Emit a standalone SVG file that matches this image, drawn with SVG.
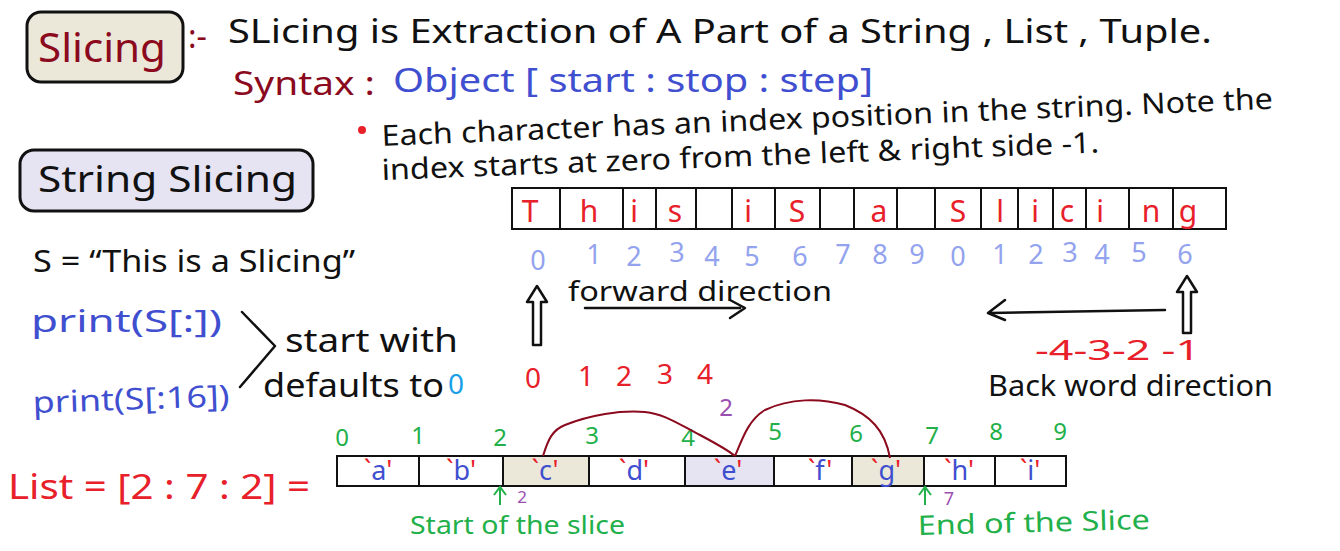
<svg xmlns="http://www.w3.org/2000/svg" width="1340" height="551" viewBox="0 0 1340 551">
<style>
text{font-family:"Noto Sans","DejaVu Sans",sans-serif;}
.blk{fill:#111}
.red{fill:#e8202a}
.dred{fill:#8b0a1e}
.blue{fill:#3f4fcf}
.lblue{fill:#93a3ee}
.green{fill:#22b04a}
.purple{fill:#9b4fb0}
.cyan{fill:#1aa0e8}
.box{stroke:#111;stroke-width:3}
.cell{stroke:#111;stroke-width:2;fill:none}
.ln{stroke:#111;stroke-width:2.5;fill:none;stroke-linecap:round;stroke-linejoin:round}
.arc{stroke:#8b0a1e;stroke-width:2;fill:none}
.garr{stroke:#22b04a;stroke-width:2;fill:none}
</style>
<rect width="1340" height="551" fill="#fff"/>

<g id="title">
<rect x="27" y="12" width="156" height="70" rx="14" fill="#ebe8da" class="box"/>
<text x="38" y="62" font-size="40" class="dred" textLength="128" lengthAdjust="spacingAndGlyphs">Slicing</text>
<text x="188" y="48" font-size="32" class="dred">:-</text>
<text x="228" y="43" font-size="33" class="blk" textLength="984" lengthAdjust="spacingAndGlyphs">SLicing is Extraction of A Part of a String , List , Tuple.</text>
</g>

<g id="syntax">
<text x="233" y="95" font-size="33" class="dred" textLength="142" lengthAdjust="spacingAndGlyphs">Syntax :</text>
<text x="393" y="92" font-size="33" class="blue" textLength="480" lengthAdjust="spacingAndGlyphs">Object [ start : stop : step]</text>
</g>

<g id="note">
<circle cx="362" cy="130" r="4" fill="#e8202a"/>
<text x="382" y="146" font-size="29" class="blk" textLength="892" lengthAdjust="spacingAndGlyphs" transform="rotate(-2.4 382 146)">Each character has an index position in the string. Note the</text>
<text x="382" y="180" font-size="29" class="blk" textLength="718" lengthAdjust="spacingAndGlyphs" transform="rotate(-2.2 382 180)">index starts at zero from the left &amp; right side -1.</text>
</g>

<g id="string-slicing">
<rect x="20" y="150" width="293" height="61" rx="14" fill="#e6e3f3" class="box"/>
<text x="38" y="192" font-size="37" class="blk" textLength="259" lengthAdjust="spacingAndGlyphs">String Slicing</text>
</g>

<g id="code">
<text x="33" y="272" font-size="31" class="blk" textLength="322" lengthAdjust="spacingAndGlyphs">S = “This is a Slicing”</text>
<text x="31" y="332" font-size="30" class="blue" textLength="191" lengthAdjust="spacingAndGlyphs">print(S[:])</text>
<text x="33" y="413" font-size="30" class="blue" textLength="197" lengthAdjust="spacingAndGlyphs" transform="rotate(-2 33 413)">print(S[:16])</text>
<polyline points="242,312 275,346 240,387" class="ln"/>
<text x="285" y="352" font-size="32" class="blk" textLength="173" lengthAdjust="spacingAndGlyphs">start with</text>
<text x="263" y="397" font-size="32" class="blk" textLength="181" lengthAdjust="spacingAndGlyphs">defaults to</text>
<text x="448" y="394" font-size="28" class="cyan">0</text>
</g>

<g id="string-array">
<rect x="512" y="188" width="714" height="41" fill="#fff" class="cell" stroke-width="2.5"/>
<path class="cell" d="M560 188V229M623 188V229M656 188V229M696 188V229M732 188V229M775 188V229M820 188V229M854 188V229M897 188V229M935 188V229M981 188V229M1018 188V229M1053 188V229M1086 188V229M1129 188V229M1173 188V229"/>
<g font-size="30" class="red" text-anchor="middle">
<text x="530" y="222">T</text><text x="589" y="222">h</text><text x="634" y="222">i</text><text x="675" y="222">s</text>
<text x="748" y="222">i</text><text x="797" y="222">S</text><text x="879" y="222">a</text><text x="958" y="222">S</text>
<text x="1000" y="222">l</text><text x="1035" y="222">i</text><text x="1067" y="222">c</text><text x="1100" y="222">i</text>
<text x="1151" y="222">n</text><text x="1188" y="222">g</text>
</g>
<g font-size="27" class="lblue" text-anchor="middle">
<text x="538" y="270">0</text><text x="594" y="264">1</text><text x="634" y="266">2</text><text x="677" y="262">3</text>
<text x="712" y="266">4</text><text x="752" y="266">5</text><text x="800" y="266">6</text><text x="843" y="264">7</text>
<text x="880" y="264">8</text><text x="917" y="264">9</text><text x="958" y="266">0</text><text x="1000" y="264">1</text>
<text x="1036" y="264">2</text><text x="1070" y="262">3</text><text x="1102" y="264">4</text><text x="1139" y="262">5</text>
<text x="1185" y="264">6</text>
</g>
</g>

<g id="forward">
<text x="568" y="301" font-size="28" class="blk" textLength="264" lengthAdjust="spacingAndGlyphs">forward direction</text>
<text x="525" y="388" font-size="28" class="red">0</text>
<text x="578" y="386" font-size="28" class="red">1</text>
<text x="616" y="386" font-size="28" class="red">2</text>
<text x="657" y="384" font-size="28" class="red">3</text>
<text x="697" y="384" font-size="28" class="red">4</text>
</g>

<g id="backward">
<text x="1035" y="360" font-size="28" class="red" textLength="165" lengthAdjust="spacingAndGlyphs">-4-3-2 -1</text>
<text x="988" y="396" font-size="29" class="blk" textLength="285" lengthAdjust="spacingAndGlyphs">Back word direction</text>
</g>

<g id="list">
<text x="8" y="499" font-size="34" class="red" textLength="302" lengthAdjust="spacingAndGlyphs">List = [2 : 7 : 2] =</text>
<rect x="337" y="456" width="729" height="30" fill="#fff" class="cell" stroke-width="2.5"/>
<rect x="503" y="457" width="86" height="28" fill="#ebe8da"/>
<rect x="685" y="457" width="89" height="28" fill="#e6e3f3"/>
<rect x="852" y="457" width="72" height="28" fill="#ebe8da"/>
<path class="cell" d="M419 456V486M503 456V486M589 456V486M685 456V486M774 456V486M852 456V486M924 456V486M995 456V486"/>
<rect x="337" y="456" width="729" height="30" fill="none" class="cell" stroke-width="2.5"/>
<g font-size="27" text-anchor="middle">
<text x="378" y="480"><tspan class="red">`</tspan><tspan class="blue">a</tspan><tspan class="red">'</tspan></text>
<text x="461" y="480"><tspan class="red">`</tspan><tspan class="blue">b</tspan><tspan class="red">'</tspan></text>
<text x="545" y="480"><tspan class="red">`</tspan><tspan class="blue">c</tspan><tspan class="red">'</tspan></text>
<text x="634" y="480"><tspan class="red">`</tspan><tspan class="blue">d</tspan><tspan class="red">'</tspan></text>
<text x="728" y="480"><tspan class="red">`</tspan><tspan class="blue">e</tspan><tspan class="red">'</tspan></text>
<text x="820" y="480"><tspan class="red">`</tspan><tspan class="blue">f</tspan><tspan class="red">'</tspan></text>
<text x="886" y="480"><tspan class="red">`</tspan><tspan class="blue">g</tspan><tspan class="red">'</tspan></text>
<text x="959" y="480"><tspan class="red">`</tspan><tspan class="blue">h</tspan><tspan class="red">'</tspan></text>
<text x="1030" y="480"><tspan class="red">`</tspan><tspan class="blue">i</tspan><tspan class="red">'</tspan></text>
</g>
<g font-size="24" class="green" text-anchor="middle">
<text x="342" y="446">0</text><text x="418" y="444">1</text><text x="500" y="446">2</text><text x="592" y="444">3</text>
<text x="688" y="446">4</text><text x="775" y="440">5</text><text x="856" y="442">6</text><text x="932" y="444">7</text>
<text x="996" y="440">8</text><text x="1060" y="440">9</text>
</g>
<text x="726" y="416" font-size="24" class="purple" text-anchor="middle">2</text>
<text x="522" y="503" font-size="17" class="purple" text-anchor="middle">2</text>
<text x="949" y="505" font-size="18" class="purple" text-anchor="middle">7</text>
<text x="410" y="534" font-size="25" class="green" textLength="215" lengthAdjust="spacingAndGlyphs">Start of the slice</text>
<text x="918" y="535" font-size="27" class="green" textLength="232" lengthAdjust="spacingAndGlyphs" transform="rotate(-1.5 918 535)">End of the Slice</text>
</g>

<g id="connectors">
<path d="M533 345V302H527L537 286L547 302H541V345Z" fill="#fff" stroke="#111" stroke-width="2.5" stroke-linejoin="round"/>
<path d="M1183 333V292H1177L1187 276L1197 292H1191V333Z" fill="#fff" stroke="#111" stroke-width="2.5" stroke-linejoin="round"/>
<path class="ln" d="M585 308H740M730 300L745 308L730 318"/>
<path class="ln" d="M1165 310L990 313M1005 300L988 313L1005 320"/>
<path class="arc" d="M543 456C548 440 552 430 565 425C590 415 620 410 645 412C665 414 680 425 700 435C715 443 728 450 735 456"/>
<path class="arc" d="M735 456C742 440 748 420 765 410C790 398 820 398 845 405C870 415 885 430 890 458"/>
<path class="garr" d="M500 505V488M494 495L500 487L506 495"/>
<path class="garr" d="M925 505V488M919 495L925 487L931 495"/>
</g>
</svg>
